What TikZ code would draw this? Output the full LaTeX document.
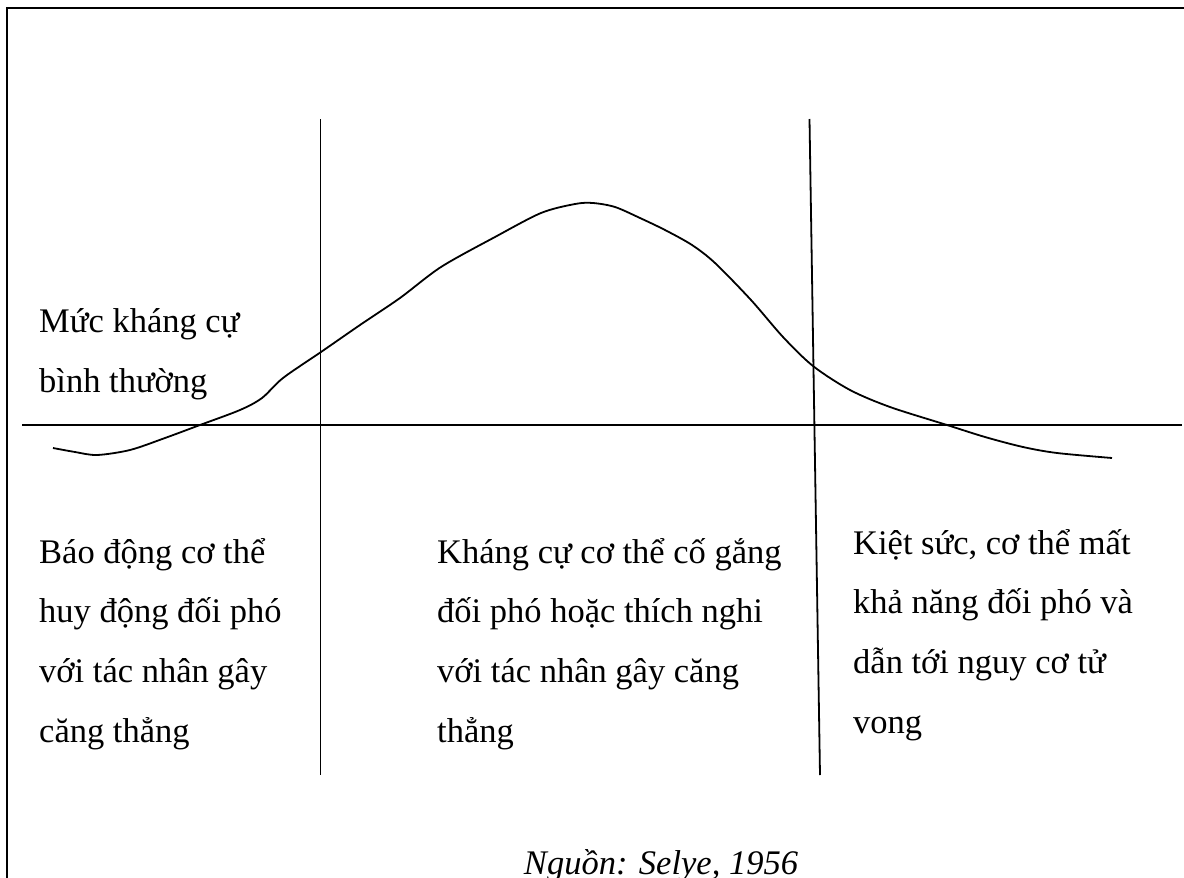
\documentclass[tikz,border=0pt]{standalone}
\usepackage{fontspec}
\setmainfont{Liberation Serif}
\usepackage{tikz}
\tikzset{
  frame/.style={draw, line width=2.8pt},
  rule/.style={draw, line width=1.8pt},
  curve/.style={draw, line width=1.8pt, smooth, tension=0.5},
  lbl/.style={anchor=base west, inner sep=0pt, align=left,
              font=\fontsize{34.5}{59.6}\selectfont},
  src/.style={anchor=base, inner sep=0pt,
              font=\fontsize{34.5}{41}\selectfont\itshape},
}
\begin{document}
\begin{tikzpicture}[x=1pt, y=-1pt]
  \useasboundingbox (0,0) rectangle (1184,878);
  % frame, only top and left sides lie on the page
  \draw[frame] (1190,8) -- (7,8) -- (7,890);
  % base level and the two phase limits
  \coordinate (b0) at (22,425);
  \coordinate (b1) at (1182,425);
  \coordinate (l0) at (320.5,119);
  \coordinate (l1) at (320.5,775);
  \coordinate (r0) at (809.5,119);
  \coordinate (r1) at (820,775);
  \draw[rule] (b0) -- (b1);
  \draw[rule] (l0) -- (l1);
  \draw[rule] (r0) -- (r1);
  % resistance curve
  \draw[curve] plot coordinates {(53,448) (75,452) (97,455) (130,450) (165,438)
    (200,425) (240,410) (262,398) (283,378) (321,352) (360,325) (400,298)
    (441,267) (495,237) (541,213) (575,204) (593,203) (615,207) (640,218)
    (665,230) (692,245) (715,263) (751,300) (783,337) (813,366) (850,390)
    (890,407) (947,425) (985,437) (1023,447) (1057,453) (1112,458)};
  % labels (base = last line)
  \node[lbl] (normal) at (39,392) {Mức kháng cự\\bình thường};
  \node[lbl] (alarm) at (39,742)
    {Báo động cơ thể\\huy động đối phó\\với tác nhân gây\\căng thẳng};
  \node[lbl] (resist) at (437,742)
    {Kháng cự cơ thể cố gắng\\đối phó hoặc thích nghi\\với tác nhân gây căng\\thẳng};
  \node[lbl] (exhaust) at (853,733)
    {Kiệt sức, cơ thể mất\\khả năng đối phó và\\dẫn tới nguy cơ tử\\vong};
  \node[src] (source) at (661,874) {Nguồn: Selye, 1956};
\end{tikzpicture}
\end{document}
